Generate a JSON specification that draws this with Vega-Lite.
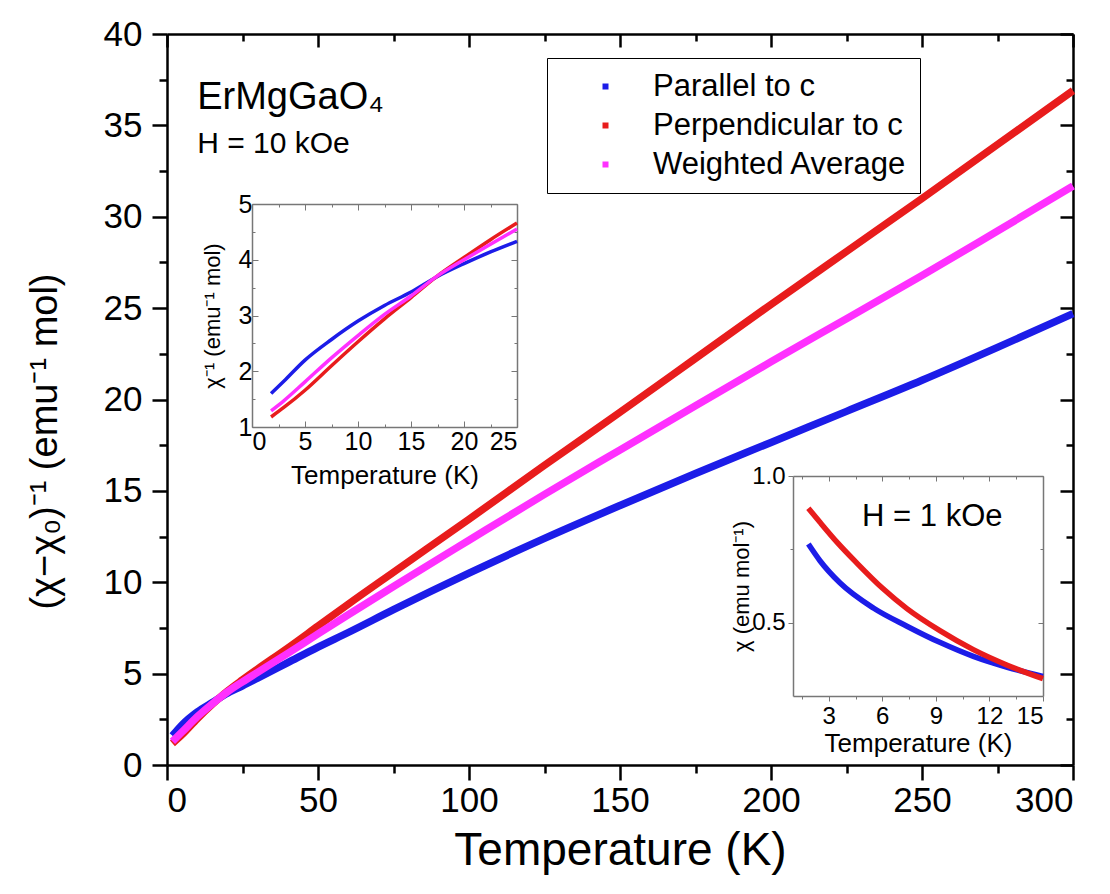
{
  "$schema": "https://vega.github.io/schema/vega-lite/v6.json",
  "width": 906,
  "height": 731,
  "autosize": {"type": "none"},
  "padding": {"left": 167, "top": 34, "right": 37, "bottom": 129},
  "background": "white",
  "config": {
    "font": "Liberation Sans",
    "view": {"stroke": null},
    "axis": {"grid": false, "labelColor": "black", "titleColor": "black", "titleFontWeight": "normal", "labelFont": "Liberation Sans", "titleFont": "Liberation Sans"}
  },
  "datasets": {
    "main": [
      {"T": 1.8, "v": 1.6, "s": "Parallel to c"}, {"T": 5, "v": 2.2, "s": "Parallel to c"}, {"T": 10, "v": 2.9, "s": "Parallel to c"}, {"T": 15, "v": 3.42, "s": "Parallel to c"}, {"T": 20, "v": 3.93, "s": "Parallel to c"}, {"T": 25, "v": 4.33, "s": "Parallel to c"}, {"T": 30, "v": 4.75, "s": "Parallel to c"}, {"T": 40, "v": 5.6, "s": "Parallel to c"}, {"T": 50, "v": 6.45, "s": "Parallel to c"}, {"T": 60, "v": 7.25, "s": "Parallel to c"}, {"T": 75, "v": 8.5, "s": "Parallel to c"}, {"T": 100, "v": 10.5, "s": "Parallel to c"}, {"T": 125, "v": 12.4, "s": "Parallel to c"}, {"T": 150, "v": 14.2, "s": "Parallel to c"}, {"T": 175, "v": 15.95, "s": "Parallel to c"}, {"T": 200, "v": 17.65, "s": "Parallel to c"}, {"T": 225, "v": 19.35, "s": "Parallel to c"}, {"T": 250, "v": 21.05, "s": "Parallel to c"}, {"T": 275, "v": 22.85, "s": "Parallel to c"}, {"T": 300, "v": 24.7, "s": "Parallel to c"},
      {"T": 1.8, "v": 1.18, "s": "Perpendicular to c"}, {"T": 5, "v": 1.66, "s": "Perpendicular to c"}, {"T": 10, "v": 2.53, "s": "Perpendicular to c"}, {"T": 15, "v": 3.32, "s": "Perpendicular to c"}, {"T": 20, "v": 4.04, "s": "Perpendicular to c"}, {"T": 25, "v": 4.66, "s": "Perpendicular to c"}, {"T": 30, "v": 5.25, "s": "Perpendicular to c"}, {"T": 40, "v": 6.4, "s": "Perpendicular to c"}, {"T": 50, "v": 7.6, "s": "Perpendicular to c"}, {"T": 60, "v": 8.8, "s": "Perpendicular to c"}, {"T": 75, "v": 10.55, "s": "Perpendicular to c"}, {"T": 100, "v": 13.45, "s": "Perpendicular to c"}, {"T": 125, "v": 16.4, "s": "Perpendicular to c"}, {"T": 150, "v": 19.3, "s": "Perpendicular to c"}, {"T": 175, "v": 22.25, "s": "Perpendicular to c"}, {"T": 200, "v": 25.2, "s": "Perpendicular to c"}, {"T": 225, "v": 28.1, "s": "Perpendicular to c"}, {"T": 250, "v": 31.0, "s": "Perpendicular to c"}, {"T": 275, "v": 33.95, "s": "Perpendicular to c"}, {"T": 300, "v": 36.9, "s": "Perpendicular to c"},
      {"T": 1.8, "v": 1.29, "s": "Weighted Average"}, {"T": 5, "v": 1.81, "s": "Weighted Average"}, {"T": 10, "v": 2.64, "s": "Weighted Average"}, {"T": 15, "v": 3.35, "s": "Weighted Average"}, {"T": 20, "v": 4.0, "s": "Weighted Average"}, {"T": 25, "v": 4.55, "s": "Weighted Average"}, {"T": 30, "v": 5.07, "s": "Weighted Average"}, {"T": 40, "v": 6.11, "s": "Weighted Average"}, {"T": 50, "v": 7.17, "s": "Weighted Average"}, {"T": 60, "v": 8.22, "s": "Weighted Average"}, {"T": 75, "v": 9.77, "s": "Weighted Average"}, {"T": 100, "v": 12.3, "s": "Weighted Average"}, {"T": 125, "v": 14.81, "s": "Weighted Average"}, {"T": 150, "v": 17.24, "s": "Weighted Average"}, {"T": 175, "v": 19.66, "s": "Weighted Average"}, {"T": 200, "v": 22.06, "s": "Weighted Average"}, {"T": 225, "v": 24.42, "s": "Weighted Average"}, {"T": 250, "v": 26.78, "s": "Weighted Average"}, {"T": 275, "v": 29.22, "s": "Weighted Average"}, {"T": 300, "v": 31.68, "s": "Weighted Average"}
    ],
    "inset1": [
      {"T": 1.8, "v": 1.6, "s": "Parallel to c"}, {"T": 3, "v": 1.82, "s": "Parallel to c"}, {"T": 5, "v": 2.2, "s": "Parallel to c"}, {"T": 7.5, "v": 2.57, "s": "Parallel to c"}, {"T": 10, "v": 2.9, "s": "Parallel to c"}, {"T": 12.5, "v": 3.18, "s": "Parallel to c"}, {"T": 15, "v": 3.42, "s": "Parallel to c"}, {"T": 17.5, "v": 3.7, "s": "Parallel to c"}, {"T": 20, "v": 3.93, "s": "Parallel to c"}, {"T": 22.5, "v": 4.14, "s": "Parallel to c"}, {"T": 25, "v": 4.33, "s": "Parallel to c"},
      {"T": 1.8, "v": 1.18, "s": "Perpendicular to c"}, {"T": 3, "v": 1.35, "s": "Perpendicular to c"}, {"T": 5, "v": 1.66, "s": "Perpendicular to c"}, {"T": 7.5, "v": 2.1, "s": "Perpendicular to c"}, {"T": 10, "v": 2.53, "s": "Perpendicular to c"}, {"T": 12.5, "v": 2.94, "s": "Perpendicular to c"}, {"T": 15, "v": 3.32, "s": "Perpendicular to c"}, {"T": 17.5, "v": 3.71, "s": "Perpendicular to c"}, {"T": 20, "v": 4.04, "s": "Perpendicular to c"}, {"T": 22.5, "v": 4.36, "s": "Perpendicular to c"}, {"T": 25, "v": 4.66, "s": "Perpendicular to c"},
      {"T": 1.8, "v": 1.29, "s": "Weighted Average"}, {"T": 3, "v": 1.47, "s": "Weighted Average"}, {"T": 5, "v": 1.81, "s": "Weighted Average"}, {"T": 7.5, "v": 2.24, "s": "Weighted Average"}, {"T": 10, "v": 2.64, "s": "Weighted Average"}, {"T": 12.5, "v": 3.02, "s": "Weighted Average"}, {"T": 15, "v": 3.35, "s": "Weighted Average"}, {"T": 17.5, "v": 3.71, "s": "Weighted Average"}, {"T": 20, "v": 4.0, "s": "Weighted Average"}, {"T": 22.5, "v": 4.28, "s": "Weighted Average"}, {"T": 25, "v": 4.55, "s": "Weighted Average"}
    ],
    "inset2": [
      {"T": 1.86, "v": 0.768, "s": "Parallel to c"}, {"T": 2.5, "v": 0.712, "s": "Parallel to c"}, {"T": 3.64, "v": 0.635, "s": "Parallel to c"}, {"T": 5.5, "v": 0.55, "s": "Parallel to c"}, {"T": 7.38, "v": 0.488, "s": "Parallel to c"}, {"T": 9.25, "v": 0.432, "s": "Parallel to c"}, {"T": 11.1, "v": 0.385, "s": "Parallel to c"}, {"T": 13, "v": 0.348, "s": "Parallel to c"}, {"T": 15, "v": 0.317, "s": "Parallel to c"},
      {"T": 1.86, "v": 0.89, "s": "Perpendicular to c"}, {"T": 2.5, "v": 0.843, "s": "Perpendicular to c"}, {"T": 3.5, "v": 0.772, "s": "Perpendicular to c"}, {"T": 4.58, "v": 0.703, "s": "Perpendicular to c"}, {"T": 6, "v": 0.618, "s": "Perpendicular to c"}, {"T": 7.38, "v": 0.548, "s": "Perpendicular to c"}, {"T": 9.25, "v": 0.472, "s": "Perpendicular to c"}, {"T": 11.1, "v": 0.408, "s": "Perpendicular to c"}, {"T": 13, "v": 0.355, "s": "Perpendicular to c"}, {"T": 15, "v": 0.309, "s": "Perpendicular to c"}
    ]
  },
  "layer": [
    {
      "data": {"name": "main"},
      "layer": [
        {
          "mark": {"type": "line", "strokeWidth": 7.5, "interpolate": "monotone"},
          "encoding": {
            "x": {"field": "T", "type": "quantitative", "scale": {"domain": [0, 300], "nice": false, "zero": false},
              "axis": {"orient": "bottom", "values": [0, 25, 50, 75, 100, 125, 150, 175, 200, 225, 250, 275, 300],
                "labelExpr": "datum.value % 50 === 0 ? datum.label : ''",
                "tickSize": {"condition": {"test": "datum.value % 50 === 0", "value": 15}, "value": 8},
                "tickWidth": 2.5, "tickColor": "black", "domainColor": "black", "domainWidth": 2.5,
                "labelFontSize": 35, "labelPadding": 3, "title": "Temperature (K)", "titleFontSize": 46, "titleY": 85, "titleBaseline": "middle"}},
            "y": {"field": "v", "type": "quantitative", "scale": {"domain": [0, 40], "nice": false, "zero": false},
              "axis": {"orient": "left", "values": [0, 2.5, 5, 7.5, 10, 12.5, 15, 17.5, 20, 22.5, 25, 27.5, 30, 32.5, 35, 37.5, 40],
                "labelExpr": "datum.value % 5 === 0 ? datum.label : ''",
                "tickSize": {"condition": {"test": "datum.value % 5 === 0", "value": 15}, "value": 8},
                "tickWidth": 2.5, "tickColor": "black", "domainColor": "black", "domainWidth": 2.5,
                "labelFontSize": 35, "labelPadding": 10, "title": "(χ−χ₀)⁻¹ (emu⁻¹ mol)", "titleFontSize": 38, "titleX": -122, "titleY": 407, "titleBaseline": "middle"}},
            "color": {"field": "s", "type": "nominal",
              "scale": {"domain": ["Parallel to c", "Perpendicular to c", "Weighted Average"], "range": ["#1c1ce8", "#e81c1c", "#ff30ff"]},
              "legend": {"orient": "none", "legendX": 380, "legendY": 24, "title": null, "strokeColor": "black", "fillColor": "white", "padding": 13,
                "labelFontSize": 31, "labelColor": "black", "symbolType": "square", "symbolSize": 9, "symbolStrokeWidth": 3, "symbolOffset": 30, "labelOffset": 32, "rowPadding": 7, "labelLimit": 400}}
          }
        },
        {
          "mark": {"type": "point", "opacity": 0},
          "encoding": {
            "x": {"datum": 0, "type": "quantitative", "scale": {"domain": [0, 300], "nice": false, "zero": false},
              "axis": {"orient": "top", "values": [0, 25, 50, 75, 100, 125, 150, 175, 200, 225, 250, 275, 300], "labels": false, "title": null,
                "tickSize": {"condition": {"test": "datum.value % 50 === 0", "value": -13}, "value": -7},
                "tickWidth": 2.5, "tickColor": "black", "domainColor": "black", "domainWidth": 2.5}},
            "y": {"datum": 0, "type": "quantitative", "scale": {"domain": [0, 40], "nice": false, "zero": false},
              "axis": {"orient": "right", "values": [0, 2.5, 5, 7.5, 10, 12.5, 15, 17.5, 20, 22.5, 25, 27.5, 30, 32.5, 35, 37.5, 40], "labels": false, "title": null,
                "tickSize": {"condition": {"test": "datum.value % 5 === 0", "value": -13}, "value": -7},
                "tickWidth": 2.5, "tickColor": "black", "domainColor": "black", "domainWidth": 2.5}}
          }
        },
        {
          "data": {"values": [{"label": "ErMgGaO₄", "T": 10, "v": 36.48, "size": "big"}, {"label": "H = 10 kOe", "T": 10, "v": 34.0, "size": "small"}]},
          "mark": {"type": "text", "align": "left", "baseline": "middle", "color": "black"},
          "encoding": {
            "x": {"field": "T", "type": "quantitative", "axis": null},
            "y": {"field": "v", "type": "quantitative", "axis": null},
            "text": {"field": "label"},
            "size": {"field": "size", "type": "nominal", "scale": {"domain": ["big", "small"], "range": [38, 30]}, "legend": null}
          }
        }
      ],
      "resolve": {"axis": {"x": "independent", "y": "independent"}}
    },
    {
      "data": {"name": "inset1"},
      "layer": [
        {
          "mark": {"type": "line", "strokeWidth": 3.5, "interpolate": "monotone"},
          "encoding": {
            "x": {"field": "T", "type": "quantitative", "scale": {"domain": [0, 25], "range": [85, 350], "nice": false, "zero": false},
              "axis": {"orient": "bottom", "offset": -338, "values": [0, 2.5, 5, 7.5, 10, 12.5, 15, 17.5, 20, 22.5, 25], "format": "~g",
                "labelExpr": "datum.value % 5 === 0 ? datum.label : ''",
                "tickSize": {"condition": {"test": "datum.value % 5 === 0", "value": -6}, "value": -3},
                "tickWidth": 1, "tickColor": "#777777", "domainColor": "#777777", "domainWidth": 1.5,
                "labelFontSize": 25, "labelPadding": 8, "title": "Temperature (K)", "titleFontSize": 26, "titleY": 48, "titleBaseline": "middle"}},
            "y": {"field": "v", "type": "quantitative", "scale": {"domain": [1, 5], "range": [393, 170], "nice": false, "zero": false},
              "axis": {"orient": "left", "offset": -85, "values": [1, 1.5, 2, 2.5, 3, 3.5, 4, 4.5, 5], "format": "~g",
                "labelExpr": "datum.value % 1 === 0 ? datum.label : ''",
                "tickSize": {"condition": {"test": "datum.value % 1 === 0", "value": -6}, "value": -3},
                "tickWidth": 1, "tickColor": "#777777", "domainColor": "#777777", "domainWidth": 1.5,
                "labelFontSize": 25, "labelPadding": 6, "title": "χ⁻¹ (emu⁻¹ mol)", "titleFontSize": 22, "titleX": -40, "titleBaseline": "middle"}},
            "color": {"field": "s", "type": "nominal", "legend": null}
          }
        },
        {
          "mark": {"type": "point", "opacity": 0},
          "encoding": {
            "x": {"datum": 0, "type": "quantitative", "scale": {"domain": [0, 25], "range": [85, 350], "nice": false, "zero": false},
              "axis": {"orient": "top", "offset": -170, "values": [0, 2.5, 5, 7.5, 10, 12.5, 15, 17.5, 20, 22.5, 25], "labels": false, "title": null,
                "tickSize": {"condition": {"test": "datum.value % 5 === 0", "value": -6}, "value": -3},
                "tickWidth": 1, "tickColor": "#777777", "domainColor": "#777777", "domainWidth": 1.5}},
            "y": {"datum": 1, "type": "quantitative", "scale": {"domain": [1, 5], "range": [393, 170], "nice": false, "zero": false},
              "axis": {"orient": "right", "offset": -556, "values": [1, 1.5, 2, 2.5, 3, 3.5, 4, 4.5, 5], "labels": false, "title": null,
                "tickSize": {"condition": {"test": "datum.value % 1 === 0", "value": -6}, "value": -3},
                "tickWidth": 1, "tickColor": "#777777", "domainColor": "#777777", "domainWidth": 1.5}}
          }
        }
      ],
      "resolve": {"axis": {"x": "independent", "y": "independent"}}
    },
    {
      "data": {"name": "inset2"},
      "layer": [
        {
          "mark": {"type": "line", "strokeWidth": 5.5, "interpolate": "monotone"},
          "encoding": {
            "x": {"field": "T", "type": "quantitative", "scale": {"domain": [1, 15], "range": [626, 876], "nice": false, "zero": false},
              "axis": {"orient": "bottom", "offset": -69, "values": [1.5, 3, 4.5, 6, 7.5, 9, 10.5, 12, 13.5, 15],
                "labelExpr": "datum.value % 3 === 0 ? datum.label : ''",
                "tickSize": {"condition": {"test": "datum.value % 3 === 0", "value": 5}, "value": 3},
                "tickWidth": 1, "tickColor": "#777777", "domainColor": "#777777", "domainWidth": 1.5,
                "labelFontSize": 24, "labelPadding": 3, "title": "Temperature (K)", "titleFontSize": 26, "titleY": 47, "titleBaseline": "middle"}},
            "y": {"field": "v", "type": "quantitative", "scale": {"domain": [0.25, 1.0], "range": [662, 442], "nice": false, "zero": false},
              "axis": {"orient": "left", "offset": -626, "values": [0.5, 0.75, 1.0], "format": ".1f",
                "labelExpr": "datum.value % 0.5 === 0 ? datum.label : ''",
                "tickSize": {"condition": {"test": "datum.value % 0.5 === 0", "value": 5}, "value": 3},
                "tickWidth": 1, "tickColor": "#777777", "domainColor": "#777777", "domainWidth": 1.5,
                "labelFontSize": 24, "labelPadding": 3, "title": "χ (emu mol⁻¹)", "titleFontSize": 22, "titleX": -52, "titleBaseline": "middle"}},
            "color": {"field": "s", "type": "nominal", "legend": null}
          }
        },
        {
          "mark": {"type": "point", "opacity": 0},
          "encoding": {
            "x": {"datum": 1, "type": "quantitative", "scale": {"domain": [1, 15], "range": [626, 876], "nice": false, "zero": false},
              "axis": {"orient": "top", "offset": -442, "values": [1.5, 3, 4.5, 6, 7.5, 9, 10.5, 12, 13.5, 15], "labels": false, "title": null,
                "tickSize": {"condition": {"test": "datum.value % 3 === 0", "value": -5}, "value": -3},
                "tickWidth": 1, "tickColor": "#777777", "domainColor": "#777777", "domainWidth": 1.5}},
            "y": {"datum": 0.5, "type": "quantitative", "scale": {"domain": [0.25, 1.0], "range": [662, 442], "nice": false, "zero": false},
              "axis": {"orient": "right", "offset": -30, "values": [0.5, 0.75, 1.0], "labels": false, "title": null,
                "tickSize": {"condition": {"test": "datum.value % 0.5 === 0", "value": -5}, "value": -3},
                "tickWidth": 1, "tickColor": "#777777", "domainColor": "#777777", "domainWidth": 1.5}}
          }
        },
        {
          "data": {"values": [{"label": "H = 1 kOe", "T": 8.8, "v": 0.86}]},
          "mark": {"type": "text", "align": "center", "baseline": "middle", "fontSize": 31, "color": "black"},
          "encoding": {
            "x": {"field": "T", "type": "quantitative", "axis": null},
            "y": {"field": "v", "type": "quantitative", "axis": null},
            "text": {"field": "label"}
          }
        }
      ],
      "resolve": {"axis": {"x": "independent", "y": "independent"}}
    }
  ],
  "resolve": {"scale": {"x": "independent", "y": "independent", "size": "independent"}, "axis": {"x": "independent", "y": "independent"}}
}
